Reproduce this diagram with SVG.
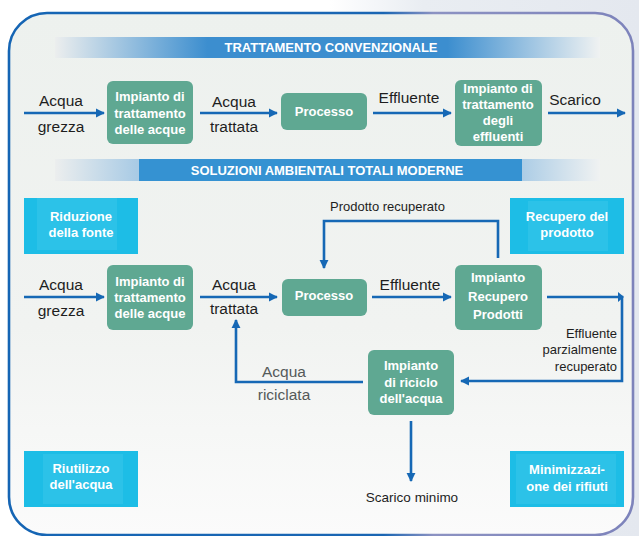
<svg xmlns="http://www.w3.org/2000/svg" width="639" height="536" viewBox="0 0 639 536">
<defs>
<linearGradient id="bg" x1="0" y1="0" x2="0" y2="1">
<stop offset="0" stop-color="#edf1ee"/>
<stop offset="0.6" stop-color="#f1f3f1"/>
<stop offset="1" stop-color="#fbfbfb"/>
</linearGradient>
<linearGradient id="frameStroke" x1="0" y1="0" x2="1" y2="0">
<stop offset="0" stop-color="#1565b4"/>
<stop offset="0.6" stop-color="#1a66b3"/>
<stop offset="0.68" stop-color="#8c92c2"/>
<stop offset="1" stop-color="#7d83bb"/>
</linearGradient>
<linearGradient id="outer" x1="0" y1="0" x2="1" y2="0">
<stop offset="0" stop-color="#ffffff"/>
<stop offset="0.3" stop-color="#e9edf2"/>
<stop offset="1" stop-color="#e4e8ef"/>
</linearGradient>
<linearGradient id="ban1" x1="55" y1="0" x2="600" y2="0" gradientUnits="userSpaceOnUse">
<stop offset="0" stop-color="#eceeee"/>
<stop offset="0.28" stop-color="#3c8ecf"/>
<stop offset="0.72" stop-color="#3c8ecf"/>
<stop offset="1" stop-color="#f0f2f2"/>
</linearGradient>
<linearGradient id="ban2" x1="55" y1="0" x2="600" y2="0" gradientUnits="userSpaceOnUse">
<stop offset="0" stop-color="#eceeee"/>
<stop offset="0.15" stop-color="#a9cbe5"/>
<stop offset="0.85" stop-color="#a9cbe5"/>
<stop offset="1" stop-color="#f0f2f2"/>
</linearGradient>
<marker id="ah" viewBox="0 0 10 10" refX="9" refY="5" markerWidth="9" markerHeight="10" markerUnits="userSpaceOnUse" orient="auto">
<path d="M0,0 L10,5 L0,10 Z" fill="#1668b5"/>
</marker>
<style>
.green{fill:#5fa892}
.cyan{fill:#1dbde6}
.cyanIn{fill:#2cc2e8}
.bt{font-family:"Liberation Sans",Arial,sans-serif;font-weight:bold;font-size:13px;fill:#ffffff;text-anchor:middle}
.lbl{font-family:"Liberation Sans",Arial,sans-serif;font-size:15.5px;fill:#1e1e1e;text-anchor:middle}
.sm{font-family:"Liberation Sans",Arial,sans-serif;font-size:13px;fill:#1e1e1e}
.ban{font-family:"Liberation Sans",Arial,sans-serif;font-weight:bold;font-size:13px;fill:#ffffff;text-anchor:middle}
.ln{fill:none;stroke:#1668b5;stroke-width:2.6}
</style>
</defs>

<rect x="0" y="0" width="639" height="536" fill="#ffffff"/>
<path d="M330,0 H639 V536 H600 L600,20 H330 Z" fill="url(#outer)"/>
<rect x="9" y="13" width="624" height="522" rx="38" ry="38" fill="url(#bg)" stroke="url(#frameStroke)" stroke-width="2.6"/>

<!-- banners -->
<g id="banner1">
<rect x="55" y="37" width="545" height="21" fill="url(#ban1)"/>
<text class="ban" x="331" y="52">TRATTAMENTO CONVENZIONALE</text>
</g>
<g id="banner2">
<rect x="55" y="159" width="545" height="22" fill="url(#ban2)"/>
<rect x="139" y="159" width="383" height="22" fill="#3592d2"/>
<text class="ban" x="327" y="175">SOLUZIONI AMBIENTALI TOTALI MODERNE</text>
</g>

<!-- connectors -->
<g id="connectors">
<line class="ln" x1="24" y1="113" x2="104" y2="113" marker-end="url(#ah)"/>
<line class="ln" x1="200" y1="113" x2="277" y2="113" marker-end="url(#ah)"/>
<line class="ln" x1="373" y1="113" x2="451" y2="113" marker-end="url(#ah)"/>
<line class="ln" x1="548" y1="113" x2="625" y2="113" marker-end="url(#ah)"/>

<line class="ln" x1="24" y1="297" x2="104" y2="297" marker-end="url(#ah)"/>
<line class="ln" x1="200" y1="297" x2="277" y2="297" marker-end="url(#ah)"/>
<line class="ln" x1="372" y1="297" x2="451" y2="297" marker-end="url(#ah)"/>

<path class="ln" d="M547,297 H622 V381 H461" marker-end="url(#ah)"/>
<path d="M618,292 L624,297 L618,302 Z" fill="#1668b5"/>
<path class="ln" d="M498,258 V221 H324 V268" marker-end="url(#ah)"/>
<path class="ln" d="M363,382 H236 V320" marker-end="url(#ah)"/>
<line class="ln" x1="411" y1="421" x2="411" y2="481" marker-end="url(#ah)"/>
</g>

<!-- edge labels -->
<g id="labels">
<text class="lbl" x="61" y="106">Acqua</text>
<text class="lbl" x="61" y="132">grezza</text>
<text class="lbl" x="234" y="107">Acqua</text>
<text class="lbl" x="234" y="132">trattata</text>
<text class="lbl" x="409" y="103">Effluente</text>
<text class="lbl" x="575" y="105">Scarico</text>

<text class="lbl" x="61" y="290">Acqua</text>
<text class="lbl" x="61" y="316">grezza</text>
<text class="lbl" x="234" y="290">Acqua</text>
<text class="lbl" x="234" y="314">trattata</text>
<text class="lbl" x="410" y="290">Effluente</text>
<text class="sm" x="330" y="211">Prodotto recuperato</text>
<text class="sm" x="617" y="338" text-anchor="end">Effluente</text>
<text class="sm" x="617" y="354" text-anchor="end">parzialmente</text>
<text class="sm" x="617" y="371" text-anchor="end">recuperato</text>
<text class="lbl" x="284" y="377" style="fill:#555a5a">Acqua</text>
<text class="lbl" x="284" y="400" style="fill:#555a5a">riciclata</text>
<text class="sm" x="412" y="502" text-anchor="middle" style="font-size:13.5px">Scarico minimo</text>
</g>

<!-- row 1 nodes -->
<g id="n_tratt_acque_1">
<rect class="green" x="107" y="81" width="86" height="63" rx="6"/>
<text class="bt" x="150" y="101">Impianto di</text>
<text class="bt" x="150" y="117.5">trattamento</text>
<text class="bt" x="150" y="134">delle acque</text>
</g>
<g id="n_processo_1">
<rect class="green" x="281" y="93" width="86" height="37" rx="6"/>
<text class="bt" x="324" y="116">Processo</text>
</g>
<g id="n_tratt_effluenti">
<rect class="green" x="455" y="80" width="87" height="66" rx="6"/>
<text class="bt" x="498" y="93">Impianto di</text>
<text class="bt" x="498" y="109">trattamento</text>
<text class="bt" x="498" y="125">degli</text>
<text class="bt" x="498" y="141">effluenti</text>
</g>

<!-- row 2 nodes -->
<g id="n_tratt_acque_2">
<rect class="green" x="107" y="265" width="86" height="65" rx="6"/>
<text class="bt" x="150" y="286">Impianto di</text>
<text class="bt" x="150" y="302">trattamento</text>
<text class="bt" x="150" y="318">delle acque</text>
</g>
<g id="n_processo_2">
<rect class="green" x="282" y="279" width="85" height="37" rx="6"/>
<text class="bt" x="324" y="300">Processo</text>
</g>
<g id="n_recupero">
<rect class="green" x="455" y="265" width="87" height="65" rx="6"/>
<text class="bt" x="498" y="282">Impianto</text>
<text class="bt" x="498" y="301">Recupero</text>
<text class="bt" x="498" y="319">Prodotti</text>
</g>
<g id="n_riciclo">
<rect class="green" x="368" y="350" width="86" height="65" rx="6"/>
<text class="bt" x="411" y="370">Impianto</text>
<text class="bt" x="411" y="386.5">di riciclo</text>
<text class="bt" x="411" y="403">dell'acqua</text>
</g>

<!-- cyan nodes -->
<g id="c_riduzione">
<rect class="cyan" x="24" y="198" width="114" height="56"/>
<rect class="cyanIn" x="37" y="198" width="80" height="52"/>
<text class="bt" x="81" y="221">Riduzione</text>
<text class="bt" x="81" y="237">della fonte</text>
</g>
<g id="c_recupero">
<rect class="cyan" x="510" y="198" width="114" height="56"/>
<rect class="cyanIn" x="528" y="201" width="80" height="50"/>
<text class="bt" x="567" y="221">Recupero del</text>
<text class="bt" x="567" y="237">prodotto</text>
</g>
<g id="c_riutilizzo">
<rect class="cyan" x="24" y="451" width="114" height="56"/>
<rect class="cyanIn" x="43" y="454" width="80" height="50"/>
<text class="bt" x="81" y="473">Riutilizzo</text>
<text class="bt" x="81" y="489">dell'acqua</text>
</g>
<g id="c_minimizzazione">
<rect class="cyan" x="510" y="451" width="114" height="56"/>
<rect class="cyanIn" x="516" y="454" width="100" height="50"/>
<text class="bt" x="567" y="474">Minimizzazi-</text>
<text class="bt" x="567" y="491">one dei rifiuti</text>
</g>
</svg>
